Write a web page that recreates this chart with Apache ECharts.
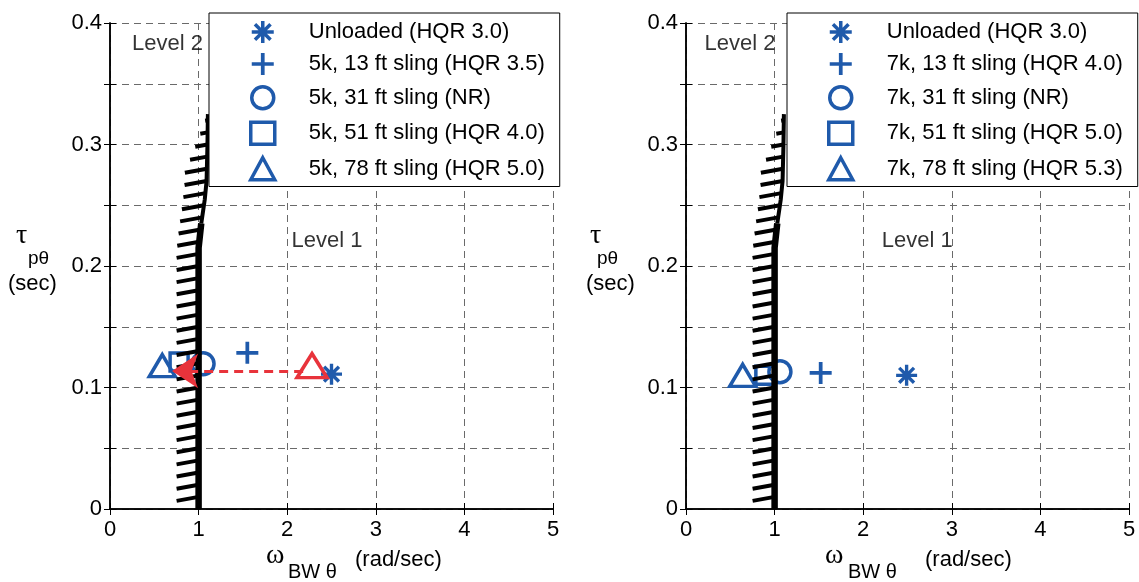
<!DOCTYPE html>
<html>
<head>
<meta charset="utf-8">
<script src="https://cdn.jsdelivr.net/npm/echarts@6/dist/echarts.min.js"></script>
<style>
  html, body { margin: 0; padding: 0; background: #fff; }
  #chart { width: 1139px; height: 582px; }
</style>
</head>
<body>
<div id="chart"></div>
<script>
// ---- Data ----------------------------------------------------------------
// Level 1 / Level 2 boundary (bandwidth rad/sec, phase delay sec)
const boundaryX = [1.0, 1.0, 1.03, 1.07, 1.09, 1.10, 1.105];
const boundaryY = [0.0, 0.215, 0.235, 0.255, 0.27, 0.30, 0.325];

// Legend names
const names5k = ['Unloaded (HQR 3.0)', '5k, 13 ft sling (HQR 3.5)', '5k, 31 ft sling (NR)',
                 '5k, 51 ft sling (HQR 4.0)', '5k, 78 ft sling (HQR 5.0)'];
const names7k = ['Unloaded (HQR 3.0)', '7k, 13 ft sling (HQR 4.0)', '7k, 31 ft sling (NR)',
                 '7k, 51 ft sling (HQR 5.0)', '7k, 78 ft sling (HQR 5.3)'];

// [omega_BW, tau_p] for each configuration
const points5k = [[2.50, 0.111], [1.55, 0.1285], [1.05, 0.1195], [0.78, 0.121], [0.59, 0.118]];
const points7k = [[2.49, 0.110], [1.52, 0.112], [1.06, 0.113], [0.89, 0.110], [0.64, 0.110]];

// Highlighted 5k / 78 ft case and the shift arrow
const highlight5k = [2.28, 0.118];
const arrowFrom = [2.18, 0.1136];
const arrowTo = [0.70, 0.1136];

// Region labels: [x, y]
const level2Left = [0.65, 0.383];
const level1Left = [2.45, 0.221];
const level2Right = [0.61, 0.383];
const level1Right = [2.61, 0.221];

const xTicks = [0, 1, 2, 3, 4, 5];
const yTickStep = 0.05;

// ---- Styling -------------------------------------------------------------
const BLUE = '#1f5aab';
const RED = '#e8333b';
const GRID = '#6a6a6a';
const FONT = '"Liberation Sans", Arial, sans-serif';
const SERIF = '"Liberation Serif", "DejaVu Serif", serif';

const asterisk = 'path://M-10,-1.6 L10,-1.6 L10,1.6 L-10,1.6 Z M-1.6,-10 L1.6,-10 L1.6,10 L-1.6,10 Z ' +
  'M-8.202,-5.939 L-5.939,-8.202 L8.202,5.939 L5.939,8.202 Z ' +
  'M-5.939,8.202 L-8.202,5.939 L5.939,-8.202 L8.202,-5.939 Z';
const plus = 'path://M-10,-1.7 L10,-1.7 L10,1.7 L-10,1.7 Z M-1.7,-10 L1.7,-10 L1.7,10 L-1.7,10 Z';

const markerDefs = [
  { symbol: asterisk, size: 21, filled: true },
  { symbol: plus, size: 22, filled: true },
  { symbol: 'circle', size: 22, filled: false },
  { symbol: 'rect', size: 18, filled: false },
  { symbol: 'triangle', size: [26, 22], filled: false }
];
const HOLLOW_W = 3.5;

function interpBoundary(t) {
  for (let i = 1; i < boundaryY.length; i++) {
    if (t <= boundaryY[i]) {
      const f = (t - boundaryY[i - 1]) / (boundaryY[i] - boundaryY[i - 1]);
      return boundaryX[i - 1] + f * (boundaryX[i] - boundaryX[i - 1]);
    }
  }
  return boundaryX[boundaryX.length - 1];
}

// hatch marks every 0.01 s along the boundary
const hatchPoints = [];
for (let k = 1; k <= 32; k++) {
  const t = k / 100;
  hatchPoints.push([interpBoundary(t), t]);
}
const splitIdx = boundaryY.indexOf(0.235);
const boundaryLower = boundaryX.slice(0, splitIdx + 1).map((x, i) => [x, boundaryY[i]]);
const boundaryUpper = boundaryX.slice(splitIdx).map((x, i) => [x, boundaryY[i + splitIdx]]);

function boundarySeries(axisIdx) {
  return [
    {
      type: 'line', xAxisIndex: axisIdx, yAxisIndex: axisIdx, data: boundaryLower,
      symbol: 'none', lineStyle: { color: '#000', width: 6.5 }, z: 5, silent: true
    },
    {
      type: 'line', xAxisIndex: axisIdx, yAxisIndex: axisIdx, data: boundaryUpper,
      symbol: 'none', lineStyle: { color: '#000', width: 4 }, z: 5, silent: true
    },
    {
      type: 'custom', xAxisIndex: axisIdx, yAxisIndex: axisIdx, data: hatchPoints, z: 5, silent: true,
      renderItem: function (params, api) {
        const t = api.value(1);
        const p = api.coord([api.value(0), t]);
        const taper = t > 0.28 ? Math.max(0.12, (0.325 - t) / 0.045) : 1;
        const L = 22 * taper;
        return {
          type: 'line',
          shape: { x1: p[0] - L, y1: p[1] + 4 * taper, x2: p[0], y2: p[1] },
          style: { stroke: '#000', lineWidth: 4 }
        };
      }
    }
  ];
}

function markerSeries(names, pts, axisIdx) {
  return names.map((n, i) => {
    const d = markerDefs[i];
    return {
      name: n, type: 'scatter', xAxisIndex: axisIdx, yAxisIndex: axisIdx,
      data: [pts[i]], symbol: d.symbol, symbolSize: d.size, z: 3,
      itemStyle: d.filled
        ? { color: BLUE, borderWidth: 0, opacity: 1 }
        : { color: 'rgba(255,255,255,0)', borderColor: BLUE, borderWidth: HOLLOW_W, opacity: 1 }
    };
  });
}

function levelSeries(items, axisIdx) {
  return {
    type: 'scatter', xAxisIndex: axisIdx, yAxisIndex: axisIdx, silent: true, z: 2,
    symbolSize: 1, itemStyle: { color: 'rgba(0,0,0,0)' },
    data: items.map(it => ({ name: it[0], value: it[1] })),
    label: {
      show: true, position: 'inside', formatter: '{b}',
      color: '#000', fontFamily: FONT, fontSize: 22
    }
  };
}

function xAxes(gridIdx) {
  return [
    {
      gridIndex: gridIdx, type: 'value', min: 0, max: 5, interval: 1, position: 'bottom',
      axisLine: { lineStyle: { color: '#000', width: 1.5 } },
      axisTick: { inside: true, length: 6, lineStyle: { color: '#000' } },
      axisLabel: { color: '#000', fontFamily: FONT, fontSize: 22, margin: 10,
        formatter: v => xTicks.indexOf(v) >= 0 ? String(v) : '' },
      splitLine: { show: true, lineStyle: { color: GRID, type: [7, 5], width: 1 } }
    },
    {
      gridIndex: gridIdx, type: 'value', min: 0, max: 5, interval: 1, position: 'top',
      axisLine: { lineStyle: { color: '#000', width: 1.5 } },
      axisTick: { inside: true, length: 6, lineStyle: { color: '#000' } },
      axisLabel: { show: false }, splitLine: { show: false }
    }
  ];
}

function yAxes(gridIdx) {
  return [
    {
      gridIndex: gridIdx, type: 'value', min: 0, max: 0.4, interval: yTickStep, position: 'left',
      axisLine: { lineStyle: { color: '#000', width: 1.5 } },
      axisTick: { inside: true, length: 6, lineStyle: { color: '#000' } },
      axisLabel: { color: '#000', fontFamily: FONT, fontSize: 22, margin: 8,
        formatter: v => (Math.round(v * 100) % 10 === 0) ? String(+v.toFixed(1)) : '' },
      splitLine: { show: true, lineStyle: { color: GRID, type: [7, 5], width: 1 } }
    },
    {
      gridIndex: gridIdx, type: 'value', min: 0, max: 0.4, interval: yTickStep, position: 'right',
      axisLine: { lineStyle: { color: '#000', width: 1.5 } },
      axisTick: { inside: true, length: 6, lineStyle: { color: '#000' } },
      axisLabel: { show: false }, splitLine: { show: false }
    }
  ];
}

function legendAt(left, names) {
  return {
    orient: 'vertical', left: left, top: 13, z: 20,
    data: names.map((n, i) => markerDefs[i].filled
      ? { name: n }
      : { name: n, itemStyle: { borderWidth: HOLLOW_W, borderColor: BLUE } }),
    backgroundColor: '#fff', borderColor: '#000', borderWidth: 1,
    padding: [8, 15, 5, 40], itemGap: 10, itemWidth: 24, itemHeight: 22,
    selectedMode: false,
    textStyle: { color: '#000', fontFamily: FONT, fontSize: 22, padding: [0, 0, 0, 29] }
  };
}

function txt(left, top, text, size, family) {
  return { type: 'text', left: left, top: top,
    style: { text: text, fill: '#000', font: size + 'px ' + family } };
}

const chart = echarts.init(document.getElementById('chart'), null, { renderer: 'canvas' });

chart.setOption({
  backgroundColor: '#fff',
  animation: false,
  grid: [
    { left: 110, right: 586, top: 23, bottom: 73 },
    { left: 686, right: 10, top: 23, bottom: 73 }
  ],
  xAxis: [...xAxes(0), ...xAxes(1)],
  yAxis: [...yAxes(0), ...yAxes(1)],
  legend: [legendAt(209, names5k), legendAt(787, names7k)],
  series: [
    ...markerSeries(names5k, points5k, 0),
    ...markerSeries(names7k, points7k, 2),
    ...boundarySeries(0),
    ...boundarySeries(2),
    levelSeries([['Level 2', level2Left], ['Level 1', level1Left]], 0),
    levelSeries([['Level 2', level2Right], ['Level 1', level1Right]], 2),
    {
      type: 'scatter', xAxisIndex: 0, yAxisIndex: 0, z: 6, silent: true,
      data: [highlight5k], symbol: 'triangle', symbolSize: [30, 24],
      itemStyle: { color: 'rgba(255,255,255,0)', borderColor: RED, borderWidth: 3.5, opacity: 1 }
    },
    {
      type: 'lines', coordinateSystem: 'cartesian2d', xAxisIndex: 0, yAxisIndex: 0, z: 7, silent: true,
      data: [{ coords: [arrowFrom, arrowTo] }],
      symbol: ['none', 'arrow'], symbolSize: [14, 26],
      lineStyle: { color: RED, width: 3, type: [9, 6], opacity: 1 }
    }
  ],
  graphic: [
    txt(16, 222, 'τ', 28, SERIF),
    txt(28, 249, 'pθ', 19, FONT),
    txt(8, 273, '(sec)', 22, FONT),
    txt(590, 222, 'τ', 28, SERIF),
    txt(597, 249, 'pθ', 19, FONT),
    txt(586, 273, '(sec)', 22, FONT),
    txt(266, 542, 'ω', 28, SERIF),
    txt(288, 562, 'BW θ', 20, FONT),
    txt(355, 549, '(rad/sec)', 22, FONT),
    txt(825, 542, 'ω', 28, SERIF),
    txt(848, 562, 'BW θ', 20, FONT),
    txt(925, 549, '(rad/sec)', 22, FONT)
  ]
});
</script>
</body>
</html>
